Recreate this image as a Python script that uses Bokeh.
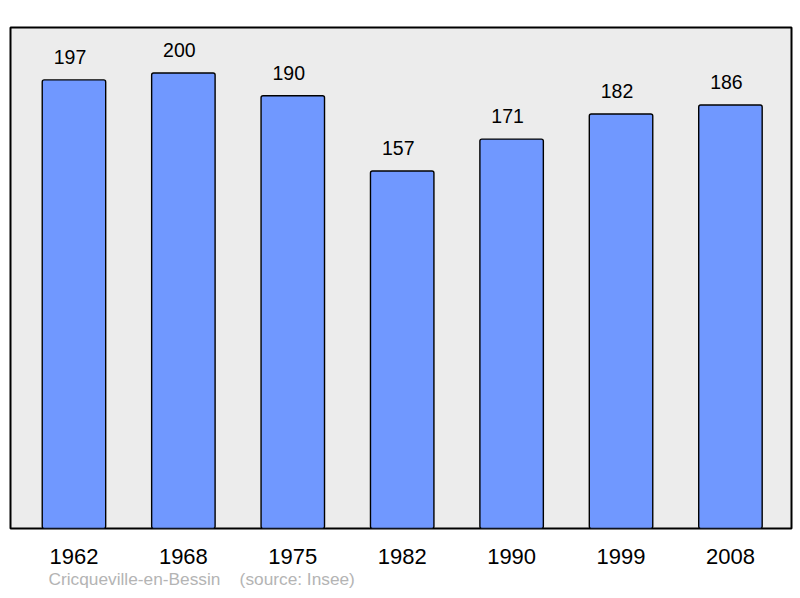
from bokeh.plotting import figure
from bokeh.models import ColumnDataSource, Range1d, FixedTicker, Title
from bokeh.core.properties import value
from bokeh.embed import file_html
from bokeh.resources import INLINE

years = ["1962", "1968", "1975", "1982", "1990", "1999", "2008"]
population = [197, 200, 190, 157, 171, 182, 186]
footer_text = "Cricqueville-en-Bessin\u00a0\u00a0\u00a0\u00a0(source: Insee)"

idx = list(range(len(years)))
src = ColumnDataSource(dict(x=idx, y=population, lab=[str(v) for v in population]))

FONT = "Liberation Sans"

p = figure(frame_width=781, frame_height=501, output_backend="svg",
           toolbar_location=None, x_range=Range1d(-0.58, 6.558),
           y_range=Range1d(0, 220))
p.min_border_left = 10
p.min_border_right = 2
p.min_border_top = 27
p.min_border_bottom = 0
p.background_fill_color = "#ececec"
p.border_fill_color = "white"
p.outline_line_color = "black"
p.outline_line_width = 2
p.grid.visible = False
p.yaxis.visible = False

p.vbar(x="x", top="y", bottom=0, width=0.58, source=src,
       fill_color="#7098ff", line_color="black", line_width=1.4,
       border_radius=2)
p.text(x="x", y="y", text="lab", source=src, text_align="center",
       text_baseline="alphabetic", x_offset=-4, y_offset=-23,
       text_font=value(FONT), text_font_size="19.5px", text_color="black")

xa = p.xaxis[0]
xa.ticker = FixedTicker(ticks=idx)
xa.major_label_overrides = {i: y for i, y in zip(idx, years)}
xa.axis_line_color = None
xa.major_tick_line_color = None
xa.minor_tick_line_color = None
xa.major_tick_out = 0
xa.major_tick_in = 0
xa.major_label_standoff = 20
xa.major_label_text_font = FONT
xa.major_label_text_font_size = "22px"
xa.major_label_text_color = "black"

t = Title(text=footer_text, align="left", offset=38, standoff=0,
          text_font=FONT, text_font_size="17.3px", text_font_style="normal",
          text_color="#b4b4b4")
p.add_layout(t, "below")

open("out.html", "w").write(file_html(p, INLINE))
